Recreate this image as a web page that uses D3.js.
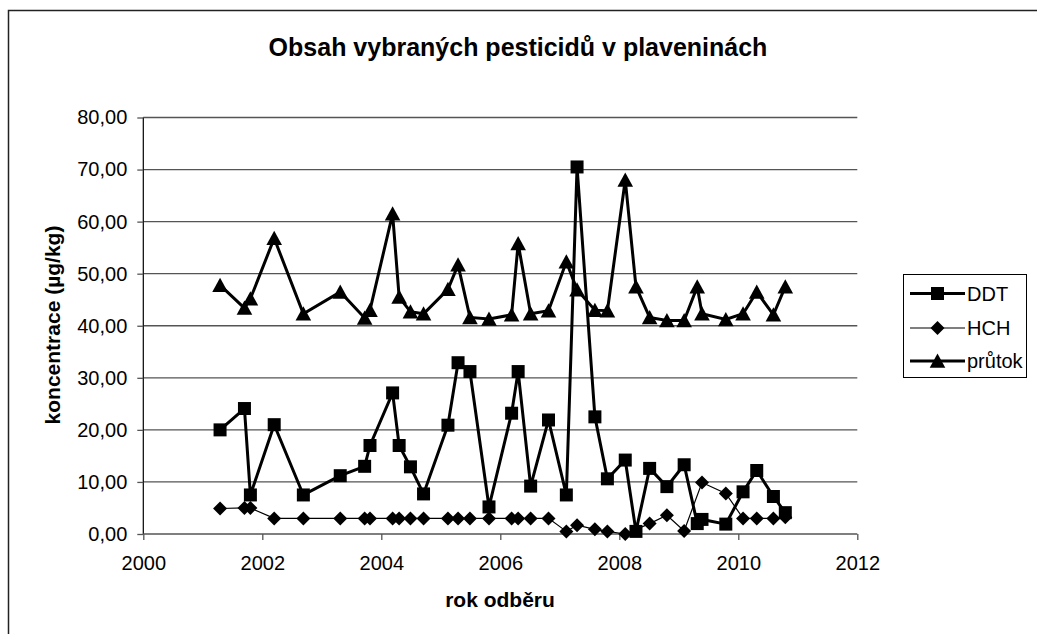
<!DOCTYPE html>
<html>
<head>
<meta charset="utf-8">
<script src="https://cdn.jsdelivr.net/npm/d3@7"></script>
<style>
  html, body { margin: 0; padding: 0; background: #fff; }
  svg { display: block; }
  text { font-family: "Liberation Sans", Arial, sans-serif; fill: #000; }
</style>
</head>
<body>
<svg id="chart" width="1037" height="634"></svg>
<script>
// ---- data ----
const dates = [2001.29, 2001.70, 2001.80, 2002.20, 2002.69, 2003.31, 2003.72, 2003.81,
  2004.19, 2004.30, 2004.49, 2004.71, 2005.12, 2005.29, 2005.49, 2005.81,
  2006.19, 2006.30, 2006.51, 2006.81, 2007.11, 2007.29, 2007.59, 2007.80,
  2008.10, 2008.28, 2008.51, 2008.80, 2009.09, 2009.31, 2009.39, 2009.79,
  2010.08, 2010.31, 2010.59, 2010.79];
const ddt = [20.0, 24.1, 7.5, 21.0, 7.5, 11.2, 13.0, 17.0,
  27.1, 17.0, 12.9, 7.7, 20.9, 32.9, 31.2, 5.2,
  23.2, 31.2, 9.2, 21.9, 7.5, 70.5, 22.5, 10.6,
  14.2, 0.5, 12.6, 9.1, 13.3, 2.0, 2.8, 1.9,
  8.1, 12.2, 7.2, 4.1];
const hch = [4.9, 5.0, 5.0, 3.0, 3.0, 3.0, 3.0, 3.0,
  3.0, 3.0, 3.0, 3.0, 3.0, 3.0, 3.0, 3.0,
  3.0, 3.0, 3.0, 3.0, 0.5, 1.7, 0.9, 0.5,
  0.0, null, 2.0, 3.6, 0.6, null, 9.9, 7.8,
  3.0, 3.0, 3.0, 3.2];
const prutok = [47.8, 43.4, 45.2, 56.8, 42.3, 46.5, 41.5, 43.0,
  61.5, 45.5, 42.7, 42.3, 47.0, 51.7, 41.6, 41.3,
  42.1, 55.8, 42.3, 42.9, 52.3, 46.9, 43.0, 42.9,
  68.0, 47.5, 41.6, 41.0, 41.0, 47.5, 42.3, 41.2,
  42.3, 46.5, 42.1, 47.5];
const seriesNames = ["DDT", "HCH", "průtok"];
const yTicks = [0, 10, 20, 30, 40, 50, 60, 70, 80];
const xTicks = [2000, 2002, 2004, 2006, 2008, 2010, 2012];
const titleText = "Obsah vybraných pesticidů v plaveninách";
const xTitle = "rok odběru";
const yTitle = "koncentrace (µg/kg)";

// ---- layout ----
const svg = d3.select("#chart");
const x = d3.scaleLinear().domain([2000, 2012]).range([143.3, 857.3]);
const y = d3.scaleLinear().domain([0, 80]).range([534, 117.5]);

// outer frame (clipped by the window on right and bottom)
svg.append("rect").attr("x", 8.5).attr("y", 10.5).attr("width", 1100).attr("height", 700)
  .attr("fill", "none").attr("stroke", "#222").attr("stroke-width", 1.5);

// title
svg.append("text").attr("x", 518).attr("y", 56).attr("text-anchor", "middle")
  .attr("font-size", 25).attr("font-weight", "bold").text(titleText);

// gridlines
svg.append("g").selectAll("line").data(yTicks.filter(d => d > 0)).join("line")
  .attr("x1", x(2000)).attr("x2", x(2012))
  .attr("y1", d => y(d)).attr("y2", d => y(d))
  .attr("stroke", "#555").attr("stroke-width", 1.3);

// y axis
const yAxis = d3.axisLeft(y).tickValues(yTicks).tickSize(6).tickPadding(10)
  .tickFormat(d => d3.format(".2f")(d).replace(".", ","));
const gy = svg.append("g").attr("transform", `translate(${x(2000)},0)`).call(yAxis);
gy.select(".domain").attr("stroke", "#000").attr("stroke-width", 1.2).attr("d", `M0,${y(80)}V${y(0)}`);
gy.selectAll(".tick line").attr("stroke", "#555").attr("stroke-width", 1.3);
gy.selectAll(".tick text").attr("font-size", 20).attr("font-family", "Liberation Sans, Arial, sans-serif").attr("fill", "#000");

// x axis
const xAxis = d3.axisBottom(x).tickValues(xTicks).tickSize(6).tickPadding(16).tickFormat(d3.format("d"));
const gx = svg.append("g").attr("transform", `translate(0,${y(0)})`).call(xAxis);
gx.select(".domain").attr("stroke", "#555").attr("stroke-width", 1.3).attr("d", `M${x(2000)},0H${x(2012)}`);
gx.selectAll(".tick line").attr("stroke", "#555").attr("stroke-width", 1.3);
gx.selectAll(".tick text").attr("font-size", 20).attr("font-family", "Liberation Sans, Arial, sans-serif").attr("fill", "#000");

// axis titles
svg.append("text").attr("x", 500).attr("y", 607).attr("text-anchor", "middle")
  .attr("font-size", 21).attr("font-weight", "bold").text(xTitle);
svg.append("text").attr("transform", "translate(60,325) rotate(-90)").attr("text-anchor", "middle")
  .attr("font-size", 21).attr("font-weight", "bold").text(yTitle);

// markers
const markerPath = {
  square: s => `M${-s/2},${-s/2}h${s}v${s}h${-s}Z`,
  diamond: s => `M0,${-s/2}L${s/2},0L0,${s/2}L${-s/2},0Z`,
  triangle: s => `M0,${-s*0.5}L${s*0.52},${s*0.45}L${-s*0.52},${s*0.45}Z`
};
const series = [
  { name: seriesNames[0], values: ddt, width: 3, marker: "square", size: 13 },
  { name: seriesNames[1], values: hch, width: 1.2, marker: "diamond", size: 14 },
  { name: seriesNames[2], values: prutok, width: 3, marker: "triangle", size: 15 }
];
const line = d3.line().x(d => x(d[0])).y(d => y(d[1]));

// draw order: průtok, HCH, DDT (DDT on top)
[series[2], series[1], series[0]].forEach(s => {
  const pts = dates.map((d, i) => [d, s.values[i]]).filter(p => p[1] !== null);
  const g = svg.append("g");
  g.append("path").datum(pts).attr("d", line).attr("fill", "none")
    .attr("stroke", "#000").attr("stroke-width", s.width).attr("stroke-linejoin", "miter");
  g.selectAll("path.m").data(pts).join("path").attr("class", "m")
    .attr("transform", p => `translate(${x(p[0])},${y(p[1])})`)
    .attr("d", markerPath[s.marker](s.size)).attr("fill", "#000");
});

// legend
const lg = svg.append("g");
lg.append("rect").attr("x", 903.5).attr("y", 274.5).attr("width", 123).attr("height", 103)
  .attr("fill", "#fff").attr("stroke", "#000").attr("stroke-width", 1);
const rowsY = [293.5, 328, 361];
series.forEach((s, i) => {
  const ry = rowsY[i];
  lg.append("line").attr("x1", 910).attr("x2", 965).attr("y1", ry).attr("y2", ry)
    .attr("stroke", "#000").attr("stroke-width", s.width);
  lg.append("path").attr("transform", `translate(937.5,${ry})`)
    .attr("d", markerPath[s.marker](s.size)).attr("fill", "#000");
  lg.append("text").attr("x", 967).attr("y", ry).attr("dy", "0.36em")
    .attr("font-size", 20).text(s.name);
});
</script>
</body>
</html>
